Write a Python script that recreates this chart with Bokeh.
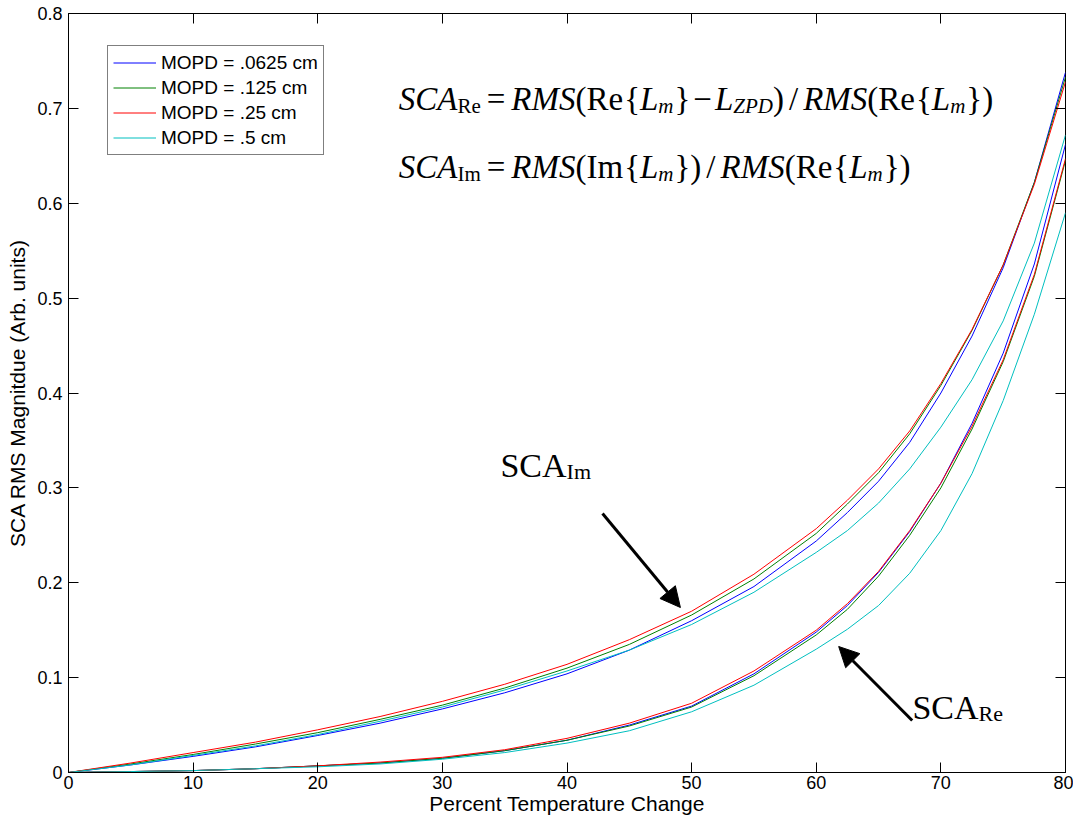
from bokeh.plotting import figure
from bokeh.models import (Range1d, LinearAxis, Label, Arrow, NormalHead, Legend,
                          LegendItem, FixedTicker, PrintfTickFormatter)
from bokeh.embed import file_html
from bokeh.resources import INLINE

# ---------------- data ----------------
x = [0, 5, 10, 15, 20, 25, 30, 35, 40, 45, 50, 55, 60, 62.5, 65, 67.5, 70, 72.5, 75, 77.5, 80]

im_0625 = [0, .008, .017, .027, .039, .052, .067, .084, .104, .129, .160, .196, .244, .274, .307, .348, .400, .460, .532, .622, .738]
im_125 = [0, .009, .019, .030, .042, .056, .071, .089, .110, .135, .166, .204, .252, .283, .316, .357, .408, .466, .535, .622, .733]
im_25 = [0, .010, .021, .032, .045, .059, .075, .093, .114, .140, .170, .209, .257, .287, .320, .360, .410, .467, .535, .620, .728]
im_5 = [0, .008, .018, .028, .040, .054, .069, .087, .107, .129, .156, .190, .232, .255, .284, .320, .364, .414, .476, .558, .672]

re_0625 = [0, .001, .002, .004, .007, .010, .015, .023, .034, .050, .070, .104, .148, .176, .211, .254, .305, .368, .442, .536, .662]
re_125 = [0, .001, .002, .004, .007, .010, .015, .023, .034, .049, .069, .102, .145, .172, .207, .250, .300, .362, .433, .523, .645]
re_25 = [0, .001, .002, .004, .007, .011, .016, .024, .036, .052, .073, .107, .150, .178, .212, .255, .305, .365, .435, .525, .647]
re_5 = [0, .001, .002, .004, .006, .009, .014, .021, .031, .044, .064, .092, .130, .151, .176, .210, .255, .315, .392, .483, .590]

labels = ["MOPD = .0625 cm", "MOPD = .125 cm", "MOPD = .25 cm", "MOPD = .5 cm"]
colors = ["#0000ff", "#008000", "#ff0000", "#00bfbf"]
x_ticks = [0, 10, 20, 30, 40, 50, 60, 70, 80]
y_ticks = [0, 0.1, 0.2, 0.3, 0.4, 0.5, 0.6, 0.7, 0.8]

# ---------------- figure ----------------
p = figure(width=1073, height=821, x_range=Range1d(0, 80), y_range=Range1d(0, 0.8),
           output_backend="svg", toolbar_location=None,
           min_border_left=68, min_border_top=13, min_border_right=8, min_border_bottom=49)
p.xgrid.visible = False
p.ygrid.visible = False
p.outline_line_color = "black"
p.outline_line_width = 1
p.background_fill_color = "white"
p.border_fill_color = "white"

SANS = "Liberation Sans"
SERIF = "Liberation Serif"

for ax, ticks in ((p.xaxis[0], x_ticks), (p.yaxis[0], y_ticks)):
    ax.ticker = FixedTicker(ticks=ticks)
    ax.formatter = PrintfTickFormatter(format="%g")
    ax.major_tick_in = 10
    ax.major_tick_out = 0
    ax.minor_tick_line_color = None
    ax.axis_line_color = "black"
    ax.major_tick_line_color = "black"
    ax.major_label_text_font = SANS
    ax.major_label_text_font_size = "18px"
    ax.major_label_text_color = "black"
    ax.axis_label_text_font = SANS
    ax.axis_label_text_font_size = "21px"
    ax.axis_label_text_font_style = "normal"
    ax.axis_label_text_color = "black"

p.xaxis[0].axis_label = "Percent Temperature Change"
p.yaxis[0].axis_label = "SCA RMS Magnitdue (Arb. units)"
p.xaxis[0].major_label_standoff = 3
p.xaxis[0].axis_label_standoff = 0
p.yaxis[0].major_label_standoff = 6
p.yaxis[0].axis_label_standoff = 5

for loc, ticks in (("right", y_ticks), ("above", x_ticks)):
    ax = LinearAxis(ticker=FixedTicker(ticks=ticks), major_tick_in=10, major_tick_out=0,
                    minor_tick_line_color=None, axis_line_color=None,
                    major_tick_line_color="black",
                    major_label_text_font_size="0px", major_label_text_color=None,
                    major_label_standoff=0)
    p.add_layout(ax, loc)

# ---------------- lines ----------------
im_series = [im_0625, im_125, im_25, im_5]
re_series = [re_0625, re_125, re_25, re_5]
items = []
for lab, col, im, re in zip(labels, colors, im_series, re_series):
    r1 = p.line(x, im, line_color=col, line_width=1)
    p.line(x, re, line_color=col, line_width=1)
    items.append(LegendItem(label=lab, renderers=[r1]))

legend = Legend(items=items, location=(39, 617), border_line_color="black", border_line_width=1,
                label_text_font=SANS, label_text_font_size="19px", label_text_color="black",
                glyph_width=43, glyph_height=23, label_height=23, spacing=2, padding=5,
                margin=0, label_standoff=5, background_fill_alpha=1.0)
p.add_layout(legend)

# ---------------- formula annotations ----------------
TR = {'S': 556, 'C': 667, 'A': 722, 'R': 667, 'e': 444, 'I': 333, 'm': 778, '=': 564, '(': 333,
      ')': 333, '{': 480, '}': 480, '\u2212': 564, '/': 278, ' ': 250, 'L': 611, 'Z': 611,
      'P': 556, 'D': 722, 'M': 889}
TI = {'S': 500, 'C': 667, 'A': 611, 'R': 611, 'M': 833, 'L': 556, 'm': 722, 'Z': 556, 'P': 611,
      'D': 722, 'e': 444}


def place(runs, x0, y0):
    off = 0.0
    for text, italic, size, dy, gap in runs:
        off += gap
        p.add_layout(Label(x=x0, y=y0, x_offset=off, y_offset=dy, text=text, text_font=SERIF,
                           text_font_style="italic" if italic else "normal",
                           text_font_size=f"{size}px", text_baseline="alphabetic",
                           text_align="left", text_color="black"))
        table = TI if italic else TR
        off += sum(table.get(c, 500) for c in text) * size / 1000.0


F = 33
s = 21
d = -7
line1 = [("SCA", True, F, 0, 0), ("Re", False, s, d, 0), ("=", False, F, 0, 6),
         ("RMS", True, F, 0, 6), ("(Re", False, F, 0, 0), ("{", False, F, 0, 1),
         ("L", True, F, 0, 0), ("m", True, s, d, 0), ("}", False, F, 0, 1),
         ("\u2212", False, F, 0, 3), ("L", True, F, 0, 3), ("ZPD", True, s, d, 0),
         (")", False, F, 0, 0), ("/", False, F, 0, 5), ("RMS", True, F, 0, 5),
         ("(Re", False, F, 0, 0), ("{", False, F, 0, 1), ("L", True, F, 0, 0),
         ("m", True, s, d, 0), ("}", False, F, 0, 1), (")", False, F, 0, 0)]
line2 = [("SCA", True, F, 0, 0), ("Im", False, s, d, 0), ("=", False, F, 0, 6),
         ("RMS", True, F, 0, 6), ("(Im", False, F, 0, 0), ("{", False, F, 0, 1),
         ("L", True, F, 0, 0), ("m", True, s, d, 0), ("}", False, F, 0, 1),
         (")", False, F, 0, 0), ("/", False, F, 0, 5), ("RMS", True, F, 0, 5),
         ("(Re", False, F, 0, 0), ("{", False, F, 0, 1), ("L", True, F, 0, 0),
         ("m", True, s, d, 0), ("}", False, F, 0, 1), (")", False, F, 0, 0)]
place(line1, 26.5, 0.7094)
place(line2, 26.5, 0.6377)

place([("SCA", False, 34, 0, 0), ("Im", False, 22, -6, 0)], 34.66, 0.3236)
place([("SCA", False, 34, 0, 0), ("Re", False, 22, -6, 0)], 67.72, 0.0685)

# ---------------- arrows ----------------
p.add_layout(Arrow(end=NormalHead(size=20, fill_color="black", line_color="black"),
                   x_start=42.85, y_start=0.273, x_end=49.1, y_end=0.1739,
                   line_width=3, line_color="black"))
p.add_layout(Arrow(end=NormalHead(size=20, fill_color="black", line_color="black"),
                   x_start=67.7, y_start=0.0548, x_end=61.8, y_end=0.1328,
                   line_width=3, line_color="black"))

open("out.html", "w").write(file_html(p, INLINE))
